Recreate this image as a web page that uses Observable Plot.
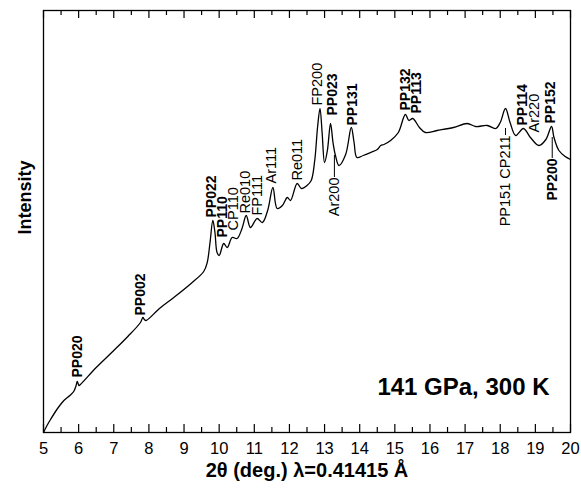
<!DOCTYPE html>
<html><head><meta charset="utf-8">
<script src="https://cdn.jsdelivr.net/npm/d3@7"></script>
<script src="https://cdn.jsdelivr.net/npm/@observablehq/plot@0.6"></script>
<style>body{margin:0;background:#fff;}</style>
</head><body><div id="chart"></div>
<script>
// Diffraction pattern (2θ in degrees, intensity in arbitrary units)
const twoTheta = [5.00,5.10,5.20,5.40,5.58,5.75,5.86,5.92,5.96,6.01,6.05,6.50,7.00,7.40,7.76,7.83,7.87,7.92,8.30,8.71,9.20,9.56,9.66,9.74,9.82,9.88,9.94,10.00,10.13,10.23,10.37,10.51,10.65,10.77,10.89,11.08,11.23,11.38,11.53,11.65,11.80,11.94,12.03,12.22,12.34,12.50,12.62,12.72,12.80,12.87,12.93,13.00,13.08,13.17,13.24,13.31,13.41,13.60,13.76,13.84,13.92,14.10,14.31,14.50,14.60,14.69,14.88,15.10,15.30,15.40,15.51,15.70,15.87,16.20,16.67,17.06,17.30,17.63,17.87,18.00,18.15,18.28,18.44,18.66,18.86,19.10,19.30,19.46,19.53,19.67,19.85,20.00];
const intensity = [0,7,13,24,32,37,41,46,51,47,48,65,82,96,110,115,113,112,124,135,149,161,170,190,212,200,180,177,189,185,195,194,204,217,205,214,210,222,245,224,227,235,232,249,244,247,252,272,305,324,300,270,282,309,290,277,267,278,305,290,275,277,280,283,287,288,292,300,318,312,314,305,300,302,305,309,306,307,304,310,324,310,297,304,295,287,293,306,295,282,276,273];

// Peak labels drawn above the curve
const peakLabels = ["PP020","PP002","PP022","PP110","CP110","Re010","FP111","Ar111","Re011","FP200","PP023","PP131","PP132","PP113","PP114","Ar220","PP152"];
const peakX      = [5.96,7.76,9.77,10.09,10.41,10.75,11.09,11.48,12.22,12.79,13.22,13.79,15.30,15.61,18.63,18.96,19.43];
const peakY      = [55,117,215,195,202,219,217,249,252,327,317,307,322,319,307,300,309];
const peakBold   = [true,true,true,true,false,false,false,false,false,false,true,true,true,true,true,false,true];

// Peak labels drawn below the curve, with a leader line
const belowLabels = ["Ar200","PP151 CP211","PP200"];
const belowX      = [13.28,18.15,19.48];
const belowY      = [255,297,274];
const belowCurveY = [277,304,295];
const belowBold   = [false,false,true];

const majorTicks = d3.range(5, 21, 1);
const minorTicks = d3.range(5.5, 20, 1);
const xLabel = "2θ (deg.) λ=0.41415 Å";
const yLabel = "Intensity";
const condition = "141 GPa, 300 K";

const font = "'Liberation Sans', Arial, Helvetica, sans-serif";
const curve = twoTheta.map((x, i) => ({x, y: intensity[i]}));
const above = peakLabels.map((t, i) => ({t, x: peakX[i], y: peakY[i], bold: peakBold[i]}));
const below = belowLabels.map((t, i) => ({t, x: belowX[i], y: belowY[i], cy: belowCurveY[i], bold: belowBold[i]}));

const plot = Plot.plot({
  width: 581, height: 489,
  marginLeft: 43, marginRight: 11, marginTop: 10, marginBottom: 57,
  style: {fontFamily: font, background: "white", color: "black"},
  x: {domain: [5, 20]},
  y: {domain: [0, 422]},
  marks: [
    Plot.frame({stroke: "black", strokeWidth: 1.3}),
    Plot.tickX(majorTicks, {x: d => d, insetTop: 414, stroke: "black", strokeWidth: 1.2}),
    Plot.tickX(minorTicks, {x: d => d, insetTop: 417, stroke: "black", strokeWidth: 1.2}),
    Plot.tickX(majorTicks, {x: d => d, insetBottom: 414, stroke: "black", strokeWidth: 1.2}),
    Plot.tickX(minorTicks, {x: d => d, insetBottom: 417, stroke: "black", strokeWidth: 1.2}),
    Plot.axisX({ticks: majorTicks, tickSize: 0, tickPadding: 10, fontSize: 16.5, label: null, tickFormat: d => d}),
    Plot.axisY({ticks: [], label: null}),
    Plot.line(curve, {x: "x", y: "y", curve: "catmull-rom", stroke: "black", strokeWidth: 1.3}),
    Plot.text(above, {filter: d => d.bold, x: "x", y: "y", text: "t", rotate: -90, textAnchor: "start", fontWeight: "bold", fontSize: 14, fill: "black"}),
    Plot.text(above, {filter: d => !d.bold, x: "x", y: "y", text: "t", rotate: -90, textAnchor: "start", fontSize: 14.5, fill: "black"}),
    Plot.ruleX(below, {x: "x", y1: "y", y2: "cy", stroke: "black", strokeWidth: 1}),
    Plot.text(below, {filter: d => d.bold, x: "x", y: "y", text: "t", rotate: -90, textAnchor: "end", fontWeight: "bold", fontSize: 14, fill: "black"}),
    Plot.text(below, {filter: d => !d.bold, x: "x", y: "y", text: "t", rotate: -90, textAnchor: "end", fontSize: 14.5, fill: "black"}),
    Plot.text([xLabel], {frameAnchor: "bottom", dy: 44, text: d => d, fontWeight: "bold", fontSize: 20, fill: "black"}),
    Plot.text([yLabel], {frameAnchor: "left", textAnchor: "middle", dx: -18, dy: -24, rotate: -90, text: d => d, fontWeight: "bold", fontSize: 18, fill: "black"}),
    Plot.text([condition], {frameAnchor: "bottom-right", dx: -21, dy: -38, textAnchor: "end", text: d => d, fontWeight: "bold", fontSize: 24, fill: "black"})
  ]
});
document.getElementById("chart").appendChild(plot);
</script>
</body></html>
